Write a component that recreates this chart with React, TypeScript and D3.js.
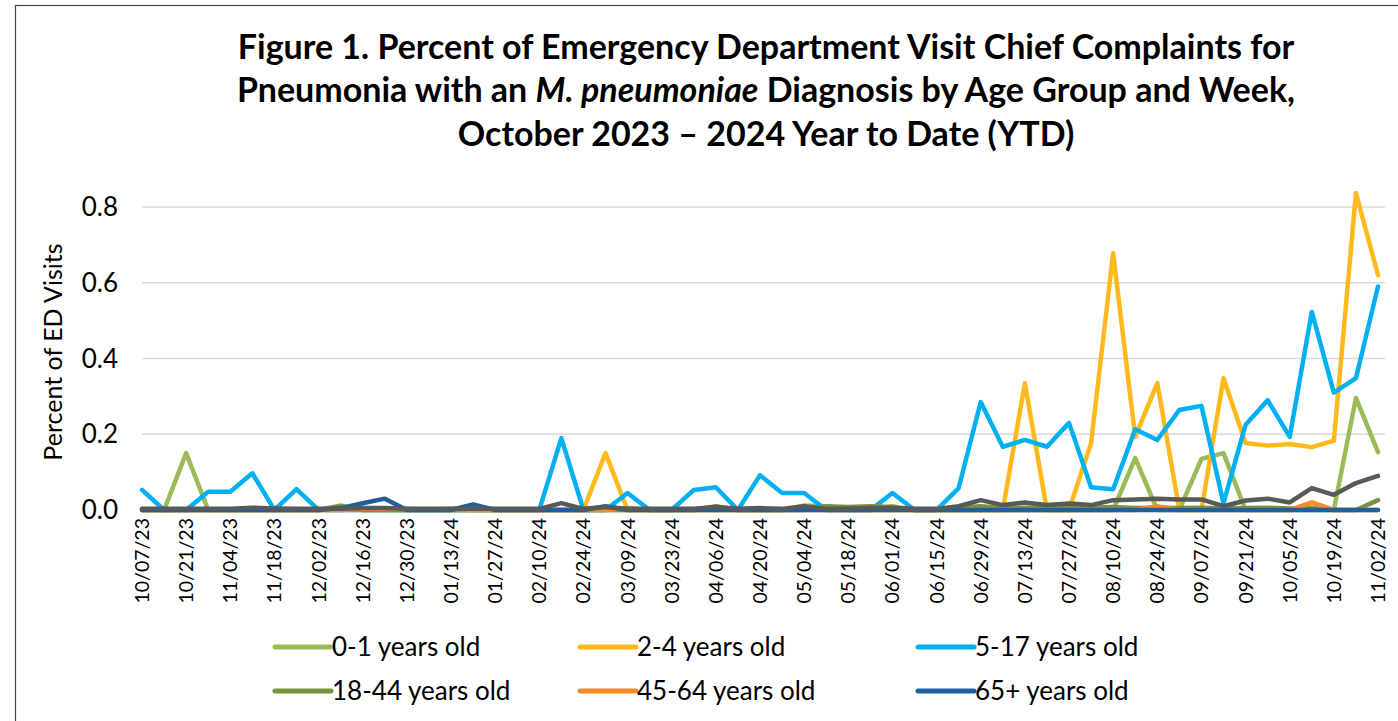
import React from "react";
import * as d3 from "d3";

const tickLabels = ["10/07/23","10/21/23","11/04/23","11/18/23","12/02/23","12/16/23","12/30/23","01/13/24","01/27/24","02/10/24","02/24/24","03/09/24","03/23/24","04/06/24","04/20/24","05/04/24","05/18/24","06/01/24","06/15/24","06/29/24","07/13/24","07/27/24","08/10/24","08/24/24","09/07/24","09/21/24","10/05/24","10/19/24","11/02/24"];

const yTicks = [0, 0.2, 0.4, 0.6, 0.8];

const age0to1 = [0,0,0.15,0,0,0,0,0,0,0.012,0,0,0,0,0,0,0,0,0,0,0,0,0,0,0,0,0.008,0,0,0,0.012,0.01,0,0,0.01,0,0,0,0,0,0,0,0,0,0,0.137,0,0,0.135,0.15,0,0,0,0,0,0.296,0.153];
const age2to4 = [0,0,0,0,0,0,0,0,0,0,0,0,0,0,0,0,0,0,0,0,0,0.15,0,0,0,0,0,0,0,0,0,0,0,0,0,0,0,0,0,0,0.335,0,0,0.177,0.678,0.193,0.335,0,0,0.348,0.177,0.17,0.174,0.166,0.183,0.837,0.62];
const age5to17 = [0.053,0,0,0.048,0.048,0.097,0,0.055,0,0,0,0,0,0,0,0,0,0,0,0.19,0,0,0.045,0,0,0.053,0.06,0,0.092,0.045,0.045,0,0,0,0.045,0,0,0.058,0.285,0.167,0.185,0.167,0.23,0.06,0.055,0.213,0.185,0.264,0.275,0.018,0.225,0.29,0.193,0.523,0.31,0.348,0.59];
const age18to44 = [0,0,0,0,0,0,0,0,0,0.01,0,0,0,0,0,0,0,0,0,0,0,0,0,0,0,0,0.01,0,0,0,0,0.01,0.008,0.01,0.008,0,0,0.006,0.01,0.005,0.006,0.006,0.008,0.006,0.008,0.005,0.006,0.005,0.006,0.004,0.005,0.006,0.004,0.006,0,0,0.026];
const age45to64 = [0,0,0,0,0,0,0,0,0,0,0.003,0.003,0.003,0,0.003,0,0,0,0,0,0,0,0.005,0,0,0,0,0,0,0,0.008,0,0,0,0,0,0,0,0,0,0,0,0,0,0,0,0.01,0,0,0,0,0,0,0.02,0,0,0];
const age65plus = [0,0,0,0,0,0,0,0,0,0.005,0.018,0.03,0,0,0,0.015,0,0,0,0,0,0.01,0,0,0,0,0,0,0,0,0,0,0,0,0,0,0,0,0,0,0,0,0,0,0,0,0,0,0,0,0,0,0,0,0,0,0];
const allAges = [0.003,0.003,0.003,0.003,0.003,0.006,0.004,0.003,0.003,0.003,0.005,0.005,0.003,0.003,0.003,0.003,0.003,0.003,0.003,0.018,0.003,0.008,0.003,0.003,0.003,0.003,0.008,0.003,0.005,0.003,0.01,0.003,0.003,0.005,0.005,0.003,0.003,0.01,0.026,0.013,0.02,0.013,0.017,0.013,0.026,0.028,0.03,0.028,0.028,0.01,0.025,0.03,0.02,0.058,0.04,0.071,0.09];

const series = [
  { name: "0-1 years old", values: age0to1, color: "#9BBB59" },
  { name: "2-4 years old", values: age2to4, color: "#FFB91D" },
  { name: "5-17 years old", values: age5to17, color: "#00B0F0" },
  { name: "18-44 years old", values: age18to44, color: "#77933C" },
  { name: "45-64 years old", values: age45to64, color: "#F58A2A" },
  { name: "65+ years old", values: age65plus, color: "#1F5F9E" },
  { name: "", values: allAges, color: "#595959" },
];

const FONT = "Lato, 'Open Sans', sans-serif";

export default function App() {
  const W = 1398, H = 721;
  const n = age0to1.length;
  const x = d3.scaleLinear().domain([0, n - 1]).range([142, 1378]);
  const y = d3.scaleLinear().domain([0, 0.8]).range([510, 207]);
  const line = d3.line<number>().x((_, i) => x(i)).y((d) => y(d));

  const legendCols = [275, 580, 918];
  const legendRows = [647, 691];

  return (
    <svg width={W} height={H} style={{ position: "absolute", left: 0, top: 0, background: "#fff" }}>
      <rect x={15.5} y={5.5} width={1400} height={800} fill="#fff" stroke="#444" strokeWidth={1.2} />
      <g fontFamily={FONT} fontWeight={700} fontSize={34} fill="#000" textAnchor="middle">
        <text x={766} y={59}>Figure 1. Percent of Emergency Department Visit Chief Complaints for</text>
        <text x={766} y={102}>
          Pneumonia with an <tspan fontStyle="italic">M. pneumoniae</tspan> Diagnosis by Age Group and Week,
        </text>
        <text x={766} y={146}>October 2023 – 2024 Year to Date (YTD)</text>
      </g>
      {yTicks.filter((t) => t > 0).map((t) => (
        <line key={t} x1={142} x2={1385} y1={y(t)} y2={y(t)} stroke="#d9d9d9" strokeWidth={1.5} />
      ))}
      <g fontFamily={FONT} fontSize={26} fill="#000" textAnchor="end">
        {yTicks.map((t) => (
          <text key={t} x={118} y={y(t) + 9}>{d3.format(".1f")(t)}</text>
        ))}
      </g>
      <text transform="translate(62,352) rotate(-90)" fontFamily={FONT} fontSize={25} textAnchor="middle">Percent of ED Visits</text>
      <g fontFamily={FONT} fontSize={19.5} fill="#000" textAnchor="end">
        {tickLabels.map((lab, k) => (
          <text key={lab} transform={`translate(${x(k * 2) + 7},518) rotate(-90)`}>{lab}</text>
        ))}
      </g>
      {series.map((s) => (
        <path key={s.color} d={line(s.values) || ""} fill="none" stroke={s.color} strokeWidth={4.5} strokeLinejoin="round" strokeLinecap="round" />
      ))}
      <g fontFamily={FONT} fontSize={26} fill="#000">
        {series.slice(0, 6).map((s, k) => {
          const lx = legendCols[k % 3];
          const ly = legendRows[Math.floor(k / 3)];
          return (
            <g key={s.name}>
              <line x1={lx} x2={lx + 56} y1={ly} y2={ly} stroke={s.color} strokeWidth={5} strokeLinecap="round" />
              <text x={lx + 57} y={ly + 9}>{s.name}</text>
            </g>
          );
        })}
      </g>
    </svg>
  );
}
